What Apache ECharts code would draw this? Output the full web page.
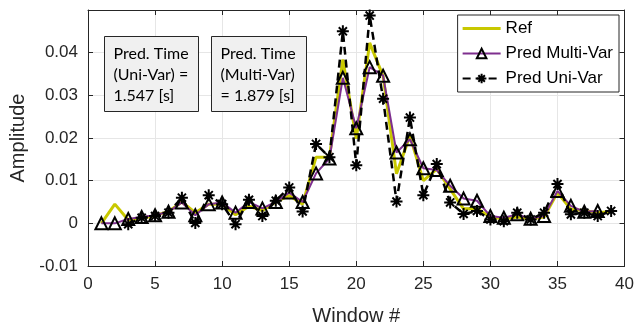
<!DOCTYPE html>
<html>
<head>
<meta charset="utf-8">
<script src="https://cdn.jsdelivr.net/npm/echarts@6/dist/echarts.min.js"></script>
<style>
html,body{margin:0;padding:0;background:#fff;}
#chart{width:637px;height:331px;}
</style>
</head>
<body>
<div id="chart"></div>
<script>
// Window indices
const windowsRef = [1,2,3,4,5,6,7,8,9,10,11,12,13,14,15,16,17,18,19,20,21,22,23,24,25,26,27,28,29,30,31,32,33,34,35,36,37,38,39];
const windowsMulti = [1,2,3,4,5,6,7,8,9,10,11,12,13,14,15,16,17,18,19,20,21,22,23,24,25,26,27,28,29,30,31,32,33,34,35,36,37,38];
const windowsUni = [3,4,5,6,7,8,9,10,11,12,13,14,15,16,17,18,19,20,21,22,23,24,25,26,27,28,29,30,31,32,33,34,35,36,37,38,39];

const refValues = [0, 0.0045, 0.0008, 0.0012, 0.0018, 0.0028, 0.005, 0.0025, 0.0045, 0.0045,
  0.002, 0.004, 0.003, 0.005, 0.0065, 0.0045, 0.0155, 0.0155, 0.0384, 0.0198,
  0.0423, 0.0345, 0.0116, 0.0205, 0.010, 0.0127, 0.008, 0.0034, 0.0035, 0.0015,
  0.001, 0.0015, 0.001, 0.0015, 0.0072, 0.0033, 0.003, 0.0025, 0.0028];
const multiValues = [0, 0, 0.001, 0.0015, 0.0019, 0.0027, 0.0049, 0.0019, 0.0045, 0.0049,
  0.0025, 0.005, 0.0035, 0.005, 0.0072, 0.005, 0.0117, 0.0152, 0.0341, 0.0223,
  0.0366, 0.0346, 0.0166, 0.0197, 0.0129, 0.0125, 0.0088, 0.0058, 0.0053, 0.0017,
  0.0013, 0.0021, 0.0011, 0.0017, 0.0076, 0.0041, 0.0027, 0.0029];
const uniValues = [-0.0002, 0.0013, 0.0017, 0.0025, 0.006, 0.0001, 0.0066, 0.0045,
  -0.0002, 0.0055, 0.0017, 0.0053, 0.0084, 0.0028, 0.0186, 0.0155, 0.045, 0.0136,
  0.0487, 0.0292, 0.0051, 0.0248, 0.0066, 0.0139, 0.0049, 0.0022, 0.0029, 0.0009,
  0.0005, 0.0025, 0.0009, 0.0025, 0.0092, 0.0021, 0.0025, 0.0017, 0.0029];

const seriesNames = ['Ref', 'Pred Multi-Var', 'Pred Uni-Var'];
const boxTexts = ['Pred. Time\n(Uni-Var) =\n1.547 [s]', 'Pred. Time\n(Multi-Var)\n= 1.879 [s]'];
const xTicks = {min: 0, max: 40, step: 5};
const yTicks = {min: -0.01, max: 0.05, step: 0.01, lastShown: 0.04};

const pairs = (xs, ys) => xs.map((x, i) => [x, ys[i]]);

const AXIS_FONT = 'Liberation Sans';
const TXT = '#262626';
const asterisk = 'path://M5,0L5,10M0,5L10,5M1.6,1.6L8.4,8.4M1.6,8.4L8.4,1.6';

const chart = echarts.init(document.getElementById('chart'), null, {renderer: 'canvas'});
const gridLine = {show: true, lineStyle: {color: '#e6e6e6', width: 1}};
chart.setOption({
  animation: false,
  backgroundColor: '#fff',
  grid: {left: 88, right: 12, top: 10, bottom: 64, containLabel: false},
  xAxis: [{
    type: 'value', min: xTicks.min, max: xTicks.max, interval: xTicks.step,
    name: 'Window #', nameLocation: 'middle', nameGap: 40,
    nameTextStyle: {fontFamily: AXIS_FONT, fontSize: 20, color: TXT},
    axisLine: {show: true, onZero: false, lineStyle: {color: TXT, width: 1}},
    axisTick: {show: true, inside: true, length: 5, lineStyle: {color: TXT}},
    axisLabel: {fontFamily: AXIS_FONT, fontSize: 17, color: TXT, margin: 10},
    splitLine: gridLine
  }, {
    type: 'value', position: 'top', min: xTicks.min, max: xTicks.max, interval: xTicks.step,
    axisLine: {show: true, onZero: false, lineStyle: {color: TXT, width: 1}},
    axisTick: {show: true, inside: true, length: 5, lineStyle: {color: TXT}},
    axisLabel: {show: false}, splitLine: {show: false}
  }],
  yAxis: [{
    type: 'value', min: yTicks.min, max: yTicks.max, interval: yTicks.step,
    name: 'Amplitude', nameLocation: 'middle', nameGap: 48,
    nameTextStyle: {fontFamily: AXIS_FONT, fontSize: 20, color: TXT},
    axisLine: {show: true, onZero: false, lineStyle: {color: TXT, width: 1}},
    axisTick: {show: true, inside: true, length: 5, lineStyle: {color: TXT}},
    axisLabel: {fontFamily: AXIS_FONT, fontSize: 17, color: TXT, margin: 10,
      formatter: v => (v > yTicks.lastShown + 1e-6) ? '' : String(Math.round(v * 100) / 100)},
    splitLine: gridLine
  }, {
    type: 'value', position: 'right', min: yTicks.min, max: yTicks.max, interval: yTicks.step,
    axisLine: {show: true, onZero: false, lineStyle: {color: TXT, width: 1}},
    axisTick: {show: true, inside: true, length: 5, lineStyle: {color: TXT}},
    axisLabel: {show: false}, splitLine: {show: false}
  }],
  legend: {
    orient: 'vertical', right: 18, top: 15,
    backgroundColor: '#fff', borderColor: '#262626', borderWidth: 1,
    padding: [5, 6, 5, 4], itemGap: 8, itemWidth: 38, itemHeight: 12,
    textStyle: {fontFamily: AXIS_FONT, fontSize: 17, color: '#000'},
    data: [
      {name: seriesNames[0], icon: 'path://M0,0L38,0L38,3L0,3Z'},
      seriesNames[1],
      seriesNames[2]
    ]
  },
  series: [{
    name: seriesNames[0], type: 'line', data: pairs(windowsRef, refValues),
    symbol: 'none', showSymbol: false,
    lineStyle: {color: '#c8c800', width: 3}, itemStyle: {color: '#c8c800'},
    emphasis: {disabled: true}
  }, {
    name: seriesNames[1], type: 'line', data: pairs(windowsMulti, multiValues),
    symbol: 'triangle', symbolSize: 12, showAllSymbol: true,
    lineStyle: {color: '#7e2f8e', width: 2},
    itemStyle: {color: 'rgba(0,0,0,0)', borderColor: '#000', borderWidth: 2},
    emphasis: {disabled: true}
  }, {
    name: seriesNames[2], type: 'line', data: pairs(windowsUni, uniValues),
    symbol: asterisk, symbolSize: 12, showAllSymbol: true,
    lineStyle: {color: '#000', width: 2.5, type: [8, 5]},
    itemStyle: {color: '#000', borderColor: '#000', borderWidth: 2},
    emphasis: {disabled: true}
  }],
  graphic: [{
    type: 'group', left: 104, top: 36, z: 100,
    children: [
      {type: 'rect', z: 100, shape: {x: 0, y: 0, width: 94, height: 75}, style: {fill: '#f0f0f0', stroke: '#262626', lineWidth: 1}},
      {type: 'text', z: 101, x: 9, y: 7, style: {text: boxTexts[0], font: '16px Lato', fill: '#000', lineHeight: 21}}
    ]
  }, {
    type: 'group', left: 211, top: 36, z: 100,
    children: [
      {type: 'rect', z: 100, shape: {x: 0, y: 0, width: 95, height: 75}, style: {fill: '#f0f0f0', stroke: '#262626', lineWidth: 1}},
      {type: 'text', z: 101, x: 9, y: 7, style: {text: boxTexts[1], font: '16px Lato', fill: '#000', lineHeight: 21}}
    ]
  }]
});
</script>
</body>
</html>
